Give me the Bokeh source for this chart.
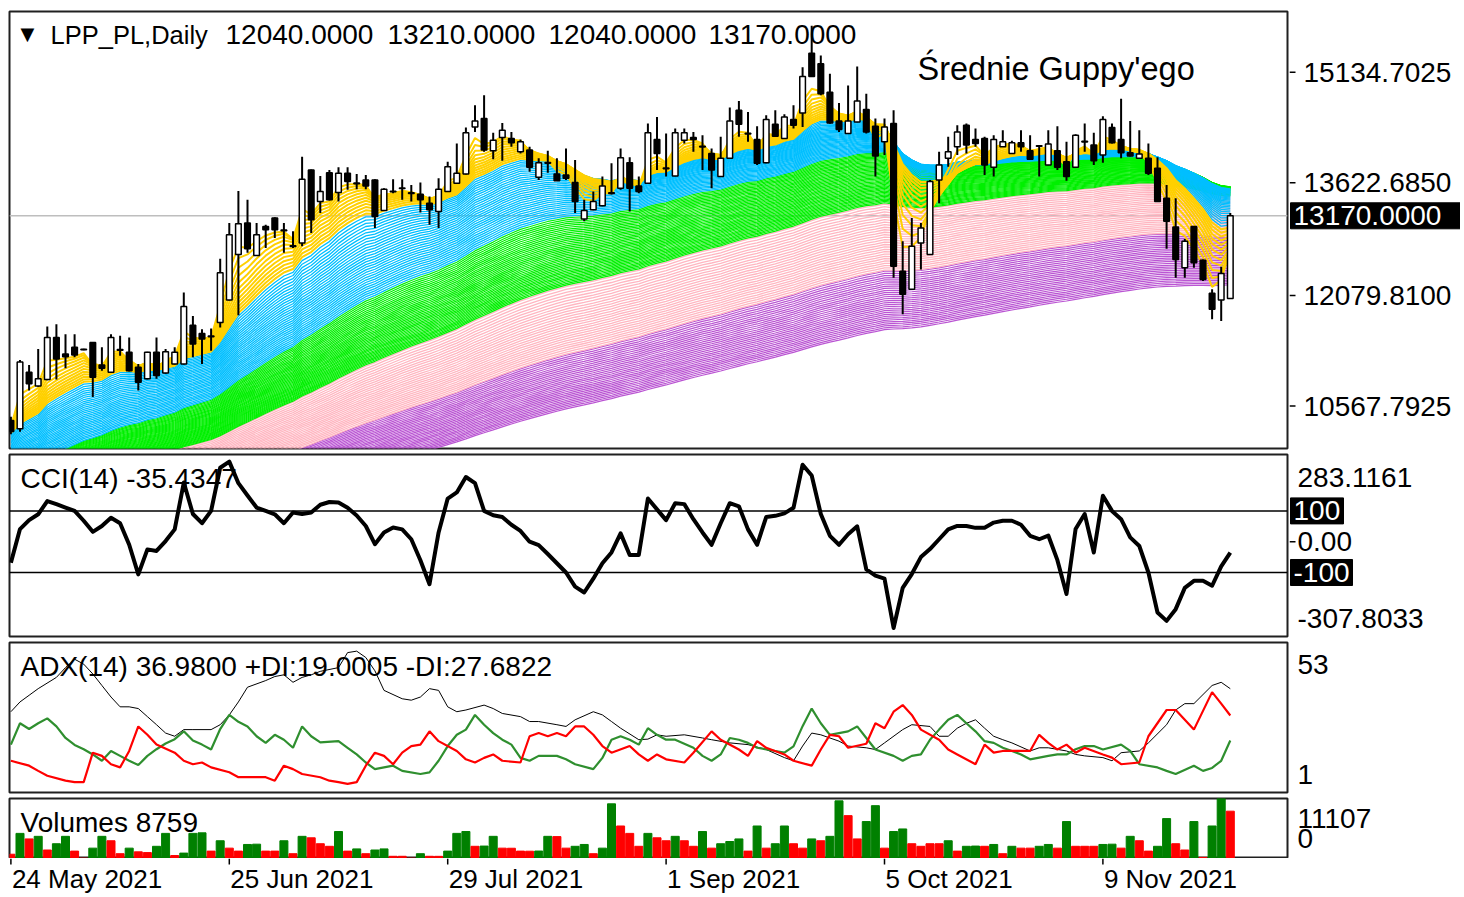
import numpy as np
from bokeh.plotting import figure
from bokeh.layouts import column, row
from bokeh.models import Range1d, Label, Span, ColumnDataSource
from bokeh.embed import file_html
from bokeh.resources import INLINE

FONT = "Liberation Sans"

# ---------------- data (daily bars, index 0 = 24 May 2021) ----------------
OPEN = [10370,10258,11030,10840,10929,11506,11279,11370,11345,11438,
        11129,11030,11340,11302,11098,10939,11302,11020,11143,11143,
        11674,11561,11525,11710,12018,12640,13071,12626,13025,13139,
        12975,12760,12799,13797,13365,13760,13488,13752,13620,13661,
        13661,13243,13505,13550,13485,13466,13343,13229,13502,13616,
        13742,14386,14500,14060,14242,14228,14046,14069,13697,13900,
        13742,13729,13624,13126,13252,13307,13485,13548,13896,13579,
        13616,14215,13825,13715,14205,14242,14120,14024,13706,13956,
        14613,14300,14215,13896,14423,14228,14487,14577,15393,15249,
        14862,14468,14296,14454,14623,14396,14183,14432,12413,12164,
        12799,12640,13661,13956,14114,14409,14215,14228,13834,14114,
        14024,14168,14060,14130,13865,14060,13910,13834,14190,14137,
        14001,14378,14215,14033,13956,13956,13820,13411,13017,12459,
        13025,12562,12109,12018,12040]
HIGH = [10420,11197,11129,11347,11656,11687,11551,11551,11350,11445,
        11370,11551,11528,11506,11143,11310,11506,11347,11370,12119,
        11800,11619,11629,12581,13071,13511,13389,13071,13048,13150,
        13071,12957,13978,13805,13715,13797,13834,13834,13742,13729,
        13670,13548,13670,13670,13593,13624,13434,13684,13910,14160,
        14378,14682,14818,14305,14441,14318,14215,14114,13956,14060,
        13956,14092,13933,13389,13502,13706,13888,14092,13970,13706,
        14432,14522,14296,14364,14364,14318,14273,14092,14250,14650,
        14740,14590,14396,14545,14613,14559,14682,15203,15770,15362,
        15113,14713,14954,15212,14841,14500,14500,14613,12821,13139,
        13071,13661,14046,14250,14409,14432,14364,14250,14273,14341,
        14196,14341,14273,14137,14341,14396,14183,14287,14432,14305,
        14532,14432,14773,14468,14341,14160,13970,13593,13411,12854,
        13030,12572,12164,12473,13210]
LOW = [10180,10217,10779,10830,10920,10929,11084,11234,11330,10690,
       11051,11020,11256,11040,10779,10930,10939,11010,11135,11135,
       11234,11143,11324,11642,12010,11810,12663,12620,12731,12867,
       12663,12731,12753,12935,13207,13380,13365,13525,13534,13534,
       13003,13235,13480,13389,13365,13216,13048,13003,13495,13610,
       13735,14318,14046,13942,13923,14114,14024,13774,13661,13760,
       13645,13661,13207,13095,13245,13300,13460,13525,13229,13480,
       13610,13797,13706,13710,14160,14046,13797,13548,13700,13950,
       14250,14183,13865,13890,14250,14220,14364,14386,15070,14818,
       14430,14318,14290,14450,14296,13706,14001,12323,11823,12160,
       12436,12635,13343,13842,14001,14024,14114,13729,13706,14110,
       14020,14046,13933,13706,13860,13797,13651,13830,14046,13865,
       13896,14160,13956,13980,13950,13729,13360,12718,12323,12323,
       12459,12277,11755,11732,12040]
CLOSE = [10220,11170,10871,10939,11506,11211,11242,11265,11337,10962,
         11084,11506,11330,11051,10894,11302,10984,11310,11302,11928,
         11415,11483,11515,12391,12912,13062,12718,12912,12980,12980,
         12965,12750,13670,13116,13502,13389,13752,13638,13610,13579,
         13161,13534,13500,13545,13475,13389,13252,13534,13842,13752,
         14305,14468,14069,14205,14341,14168,14183,13834,13896,13890,
         13651,13684,13365,13243,13365,13579,13475,13964,13548,13502,
         14305,14024,13815,14305,14305,14215,14110,13797,13956,14468,
         14423,14290,13888,14487,14259,14522,14409,15076,15076,14841,
         14441,14351,14468,14740,14318,13987,14386,12481,12096,12753,
         13003,13638,13865,14046,14318,14137,14160,13865,14215,14183,
         14168,14114,13942,14120,14151,13834,13706,14273,14180,13923,
         14487,14168,14033,13987,14015,13752,13365,13095,12572,12821,
         12527,12300,11891,12381,13170]

VOLUME = [790,4651,3625,4104,1573,2736,4104,1368,60,1915,
          4104,3283,889,1915,1231,1094,2257,4651,547,1000,
          4651,4750,1368,3283,1915,1368,2599,2650,1368,1368,
          3283,889,4104,3830,2736,2257,4993,1368,1778,889,
          1573,1778,410,410,60,889,410,400,1368,4651,
          4993,2257,2300,4104,1915,1900,1368,1350,1380,4104,
          4050,1915,2257,2599,889,1915,10123,6019,4651,2257,
          4651,3830,3283,4104,3283,2257,4993,1915,2736,3146,
          3625,1368,6019,1915,2736,6019,2736,1915,3625,3283,
          4104,10670,7934,3625,6840,9781,1915,4993,5472,2736,
          2257,2736,2736,3283,1368,2257,2300,2257,2599,889,
          2257,1915,1915,2257,2599,1915,6840,2257,2257,2257,
          2599,2650,1915,4104,3283,1368,2257,7387,2736,1573,
          6840,205,6019,11107,8759]
VOL_UP = [0,1,0,1,0,1,1,0,0,1, 1,0,0,1,0,0,1,1,0,1, 1,1,0,1,0,0,1,1,0,0,
          1,0,1,0,0,0,1,0,1,0, 1,1,0,0,0,1,0,0,1,1, 1,0,1,1,0,0,0,0,1,1,
          0,0,1,1,0,1,1,0,0,0, 1,0,0,1,0,0,1,0,1,1, 1,0,1,0,1,1,0,0,1,0,
          1,1,0,0,1,1,0,1,1,0, 0,0,0,1,0,1,1,0,1,0, 1,0,0,1,1,0,1,0,0,0,
          1,1,0,1,0,0,1,1,0,0, 1,0,1,1,0]

CCI = [-68,41,70,89,132,122,111,100,68,32,
       51,78,60,-10,-106,-25,-30,2,40,192,
       90,60,100,240,260,190,150,111,100,89,
       60,95,90,95,120,129,127,110,85,51,
       -8,30,46,40,8,-60,-138,30,140,160,
       210,190,100,86,80,55,35,0,-11,-40,
       -70,-100,-146,-165,-120,-70,-35,27,-43,-43,
       140,105,70,125,122,73,30,-10,60,125,
       115,40,-10,80,84,92,110,250,215,90,
       19,-10,24,50,-90,-110,-120,-280,-150,-105,
       -50,-24,8,40,51,51,45,45,62,68,
       68,55,19,8,20,-60,-170,41,90,-35,
       149,100,73,14,-14,-100,-230,-257,-219,-150,
       -127,-127,-143,-80,-35.4347]

ADX = [(0,29),(1,32.4),(2,34.7),(3,37),(5,40.9),(6,44.3),(7,47.2),(8,45.5),(9,42.1),(10,38.1),
       (11,34.1),(12,30.7),(13,30.7),(14,30.1),(15,27.3),(16,24.5),(17,21.6),(18,20.5),(19,22.8),
       (20,22.8),(22,22.8),(23,24.5),(24,27.9),(25,32.4),(26,37.5),(28,39.8),(29,41.2),(30,41.8),
       (31,39.2),(32,40.9),(33,41.8),(34,43),(36,44.3),(37,49.5),(38,50),(39,47.8),(40,43.2),
       (41,36.4),(43,33.5),(44,33),(45,34.1),(46,37),(47,36.4),(48,30.7),(49,29),(50,29.6),
       (52,31.3),(53,30.1),(54,28.4),(56,27.3),(57,25.6),(58,25.6),(60,24.5),(61,23.9),(62,26.2),
       (64,29),(65,27.9),(66,25.6),(67,23.3),(69,19.3),(70,19.5),(71,21),(72,20.5),(74,21),
       (76,19.9),(77,19.3),(79,18.2),(81,17.6),(83,15.9),(85,13.1),(86,12),(87,17.1),(88,21.6),
       (89,21),(91,18.8),(92,17.1),(94,16.5),(95,15.9),(96,18.2),(98,22.8),(99,24.5),(101,23.9),
       (102,20.5),(103,20.5),(104,23.3),(105,25),(106,26.2),(107,23.3),(108,20.5),(109,19.3),
       (110,18.2),(112,15.4),(113,16.5),(114,16.5),(116,15.4),(117,14.2),(118,13.7),(120,13.1),
       (121,12),(122,14.8),(124,15.4),(125,18.2),(127,24.5),(128,29.6),(129,31.8),(130,31.8),
       (132,38.1),(133,39.2),(134,36.98)]
PLUS_DI = [(0,17.6),(1,25),(2,23),(3,25),(4,26.7),(5,23.9),(6,19.9),(7,17.5),(8,16),(9,14.2),
           (10,12),(11,15.4),(12,13.7),(13,12),(14,10.5),(15,13.7),(16,16),(17,18),(18,19.5),
           (19,22.2),(20,19),(21,17.6),(22,15.9),(23,23),(24,27.9),(25,25.5),(26,23.9),(27,20.5),
           (28,18.2),(29,21),(30,19.3),(31,16.5),(32,23.9),(33,20.5),(34,18.4),(36,18.8),(37,16.5),
           (38,14.2),(39,11.4),(40,9.1),(42,10.3),(43,8.5),(45,7.4),(46,8),(47,12),(48,17.1),
           (49,21),(50,22.8),(51,27.9),(52,24.5),(53,21.6),(54,19.3),(55,17.6),(56,13),(57,12),
           (58,13.7),(60,13.7),(61,12.5),(62,10.8),(64,9.1),(65,13),(66,19.3),(67,20.5),(68,19.3),
           (69,17.6),(70,23.3),(71,21),(72,19.3),(73,19.3),(75,16.5),(76,13.7),(77,12),(78,14.2),
           (79,19.9),(80,19.3),(81,18.2),(82,16.5),(84,15.4),(85,14.8),(86,17),(87,24),(88,30.1),
           (89,25),(90,21),(92,22.2),(93,23.9),(94,19.9),(95,15.9),(97,13.7),(98,12),(99,13.7),
           (100,14.2),(101,19.3),(102,22.8),(103,26.2),(104,27.9),(105,25),(106,22.2),(107,18.8),
           (108,18.2),(109,16.5),(110,15.4),(111,14.2),(112,12.5),(114,13.7),(115,14.2),(116,14.2),
           (117,16),(118,17.1),(119,17.1),(120,15.9),(122,17.6),(123,15.4),(124,10.8),(126,9.7),
           (127,8.5),(128,7.4),(130,10.3),(131,8.5),(132,9.5),(133,12),(134,19.0005)]
MINUS_DI = [(0,12),(2,10.3),(3,8.5),(4,6.8),(6,5.1),(7,4.6),(8,4.6),(9,14.8),(10,13.7),(11,10.8),
            (12,9.7),(13,15.4),(14,23.9),(15,21),(16,17.6),(18,14.8),(19,12),(20,10.8),(21,11.4),
            (22,9.7),(24,8),(25,6.3),(26,6.3),(28,6.3),(29,5.1),(30,10.3),(31,9.1),(32,7.4),
            (34,6.3),(35,5.1),(36,4.6),(37,4),(38,4.6),(39,10.3),(40,14.8),(41,13.7),(42,10.8),
            (43,14.8),(44,17.1),(45,17.6),(46,22.2),(47,18.8),(49,15.4),(50,12.5),(51,11.4),(52,13),
            (53,14.2),(54,12),(56,11.4),(57,20.5),(58,21.6),(59,20.5),(60,21.6),(61,20.5),(62,23.9),
            (63,23.9),(64,21),(65,17.1),(66,14.8),(68,17.1),(69,14.2),(70,12),(71,14.2),(72,12.5),
            (74,11.4),(75,14.8),(77,22.2),(78,19.3),(80,15.9),(81,13.7),(82,18.8),(83,16.5),(85,14.2),
            (86,12),(88,10.3),(89,15.9),(90,21),(91,20.5),(92,16.5),(94,17.9),(95,25),(96,23.3),
            (97,29),(98,31.3),(99,27.9),(100,22.8),(102,19.3),(103,15.9),(104,14.2),(106,10.8),
            (107,17.6),(108,14.8),(109,15.4),(112,15.4),(113,21),(114,18.2),(115,15.9),(116,17.6),
            (117,14.8),(118,16.5),(120,14.2),(121,13.1),(122,10.8),(124,11.4),(125,20.5),(127,29.6),
            (128,29.6),(130,22.8),(132,35.8),(133,31.8),(134,27.6822)]

DATE_TICKS = [0, 24, 48, 72, 96, 120]
DATE_LABELS = ["24 May 2021", "25 Jun 2021", "29 Jul 2021", "1 Sep 2021", "5 Oct 2021", "9 Nov 2021"]
PRICE_TICKS = [10567.7925, 12079.81, 13622.685, 15134.7025]

# Guppy ribbons: colour groups of EMA periods; start levels (pre-history estimate) per period
GROUP_COLORS = ["#FFD000", "#00BFFF", "#00F000", "#FFB6C1", "#BA55D3"]
GROUP_WIDTHS = [2.0, 1.3, 1.2, 1.3, 1.2]
GROUP_PERIODS = [list(range(3, 15)), list(range(15, 46)), list(range(46, 86)),
                 list(range(86, 141, 2)), list(range(141, 201, 2))]
SEED_PERIODS = [3, 14, 45, 85, 140, 200]
SEED_LEVELS = [10350, 10200, 9600, 9300, 8900, 8500]

PRICE_MIN, PRICE_MAX = 9986.4, 15965.1
CCI_MIN, CCI_MAX = -307.8033, 283.1161
ADX_MIN, ADX_MAX = 1, 53
VOL_MAX = 11107

# ---------------- layout ----------------
N = len(CLOSE)
idx = list(range(N))
FRAME_W = 1278
SIDE_W = 171
STEP = 9.1
FIRST = 1.4
xr = Range1d(-FIRST / STEP, -FIRST / STEP + FRAME_W / STEP)


def base(fig):
    fig.grid.visible = False
    fig.background_fill_color = "white"
    fig.border_fill_color = "white"
    return fig


def panel(frame_h, top, bottom, yr):
    p = figure(frame_width=FRAME_W, frame_height=frame_h, x_range=xr, y_range=yr,
               output_backend="svg", toolbar_location=None,
               x_axis_location=None, y_axis_location=None,
               min_border_left=9, min_border_right=2,
               min_border_top=top, min_border_bottom=bottom)
    base(p)
    p.outline_line_color = "#202020"
    p.outline_line_width = 2
    return p


def side(frame_h, top, bottom, yr):
    s = figure(frame_width=SIDE_W, frame_height=frame_h, x_range=Range1d(0, SIDE_W), y_range=yr,
               output_backend="svg", toolbar_location=None,
               x_axis_location=None, y_axis_location=None,
               min_border_left=0, min_border_right=0,
               min_border_top=top, min_border_bottom=bottom)
    base(s)
    s.outline_line_color = None
    return s


def lab(p, text, x, y, xu="screen", yu="screen", size=28, align="left",
        baseline="middle", color="black", font=FONT, x_offset=0):
    p.add_layout(Label(x=x, y=y, x_units=xu, y_units=yu, text=text, text_font=font,
                       text_font_size=f"{size}px", text_color=color, text_align=align,
                       text_baseline=baseline, x_offset=x_offset))


def ticks(s, values):
    s.segment(x0=[0] * len(values), x1=[6] * len(values), y0=values, y1=values,
              line_color="black", line_width=1.5)


def box(s, text, yv, x_left, width):
    s.rect(x=[x_left + width / 2.0], y=[yv], width=[width], height=[26], height_units="screen",
           fill_color="black", line_color="black")
    lab(s, text, x_left + 3, yv, xu="data", yu="data", color="white")


# ---- top window line ----
top_strip = figure(frame_width=1460, frame_height=6, x_range=Range1d(0, 1460), y_range=Range1d(0, 6),
                   output_backend="svg", toolbar_location=None, x_axis_location=None,
                   y_axis_location=None, min_border=0)
base(top_strip)
top_strip.outline_line_color = None
top_strip.segment(x0=[0], x1=[1425], y0=[3], y1=[3], line_color="#2E7D5E", line_width=1.5)

# ---- main price panel ----
H1 = 437
p1 = panel(H1, 5, 3, Range1d(PRICE_MIN, PRICE_MAX))
p1.add_layout(Span(location=CLOSE[-1], dimension="width", line_color="#BEBEBE",
                   line_width=1.5, level="underlay"))

groups = list(zip(GROUP_COLORS, GROUP_WIDTHS, GROUP_PERIODS))
for color, lw, periods in reversed(groups):
    xs, ys = [], []
    for n in periods:
        a = 2.0 / (n + 1)
        e = float(np.interp(n, SEED_PERIODS, SEED_LEVELS))
        vals = []
        for c in CLOSE:
            e = e + a * (c - e)
            vals.append(e)
        xs.append(idx)
        ys.append(vals)
    p1.multi_line(xs, ys, line_color=color, line_width=lw)

up = [c >= o for o, c in zip(OPEN, CLOSE)]
p1.segment(x0=idx, y0=LOW, x1=idx, y1=HIGH, line_color="black", line_width=2)
csrc = ColumnDataSource(dict(x=idx, top=[max(o, c) for o, c in zip(OPEN, CLOSE)],
                             bottom=[min(o, c) for o, c in zip(OPEN, CLOSE)],
                             fill=["white" if u else "black" for u in up]))
p1.vbar(x="x", top="top", bottom="bottom", width=0.62, fill_color="fill",
        line_color="black", line_width=1.5, source=csrc)

lab(p1, "\u25BC", 18, H1 - 22, size=18, align="center", font="DejaVu Sans")
lab(p1, "LPP_PL,Daily", 41, H1 - 23, size=25.5)
for xx, t in zip([216, 378, 539, 699],
                 ["%.4f" % OPEN[-1], "%.4f" % HIGH[-1], "%.4f" % LOW[-1], "%.4f" % CLOSE[-1]]):
    lab(p1, t, xx, H1 - 23)
lab(p1, "Średnie Guppy'ego", 908, H1 - 57, size=32.5)

s1 = side(H1, 5, 3, p1.y_range)
ticks(s1, PRICE_TICKS)
for v in PRICE_TICKS:
    lab(s1, "%.4f" % v, 14, v, xu="data", yu="data")
box(s1, "%.4f" % CLOSE[-1], CLOSE[-1], 1, 170)

# ---- CCI panel ----
H2 = 182
p2 = panel(H2, 3, 3, Range1d(CCI_MIN, CCI_MAX))
for lvl in (100, -100):
    p2.add_layout(Span(location=lvl, dimension="width", line_color="black",
                       line_width=1.5, level="underlay"))
p2.line(idx, CCI, line_color="black", line_width=4, line_join="round")
lab(p2, "CCI(14) %.4f" % CCI[-1], 11, H2 - 24)

s2 = side(H2, 3, 3, p2.y_range)
ticks(s2, [0])
lab(s2, "%.4f" % CCI_MAX, 8, H2 - 23)
lab(s2, "0.00", 8, 0, xu="data", yu="data")
lab(s2, "%.4f" % CCI_MIN, 8, 18)
box(s2, "100", 100, 1, 53)
box(s2, "-100", -100, 1, 62)

# ---- ADX panel ----
H3 = 150
p3 = panel(H3, 3, 3, Range1d(ADX_MIN, ADX_MAX))
p3.line([a for a, _ in ADX], [b for _, b in ADX], line_color="black", line_width=1)
p3.line([a for a, _ in PLUS_DI], [b for _, b in PLUS_DI], line_color="#2F8F2F", line_width=2.2)
p3.line([a for a, _ in MINUS_DI], [b for _, b in MINUS_DI], line_color="#FF0000", line_width=2.2)
lab(p3, "ADX(14) %.4f +DI:%.4f -DI:%.4f" % (ADX[-1][1], PLUS_DI[-1][1], MINUS_DI[-1][1]), 11, H3 - 24)

s3 = side(H3, 3, 3, p3.y_range)
lab(s3, "%d" % ADX_MAX, 8, H3 - 22)
lab(s3, "%d" % ADX_MIN, 8, 18)

# ---- Volumes panel ----
H4 = 60
p4 = panel(H4, 3, 0, Range1d(0, VOL_MAX))
p4.vbar(x=idx, top=VOLUME, bottom=0, width=0.88,
        color=["#008000" if u else "#FF0000" for u in VOL_UP])
lab(p4, "Volumes %d" % VOLUME[-1], 11, H4 - 24)

s4 = side(H4, 3, 0, p4.y_range)
lab(s4, "%d" % VOL_MAX, 8, H4 - 20)
lab(s4, "0", 8, 20)

# ---- date strip ----
HD = 36
dates = figure(frame_width=FRAME_W, frame_height=HD, x_range=xr, y_range=Range1d(0, HD),
               output_backend="svg", toolbar_location=None, x_axis_location=None,
               y_axis_location=None, min_border_left=9, min_border_right=0,
               min_border_top=0, min_border_bottom=0)
base(dates)
dates.outline_line_color = None
dates.segment(x0=DATE_TICKS, x1=DATE_TICKS, y0=[HD] * len(DATE_TICKS), y1=[HD - 6] * len(DATE_TICKS),
              line_color="black", line_width=1.5)
for t, s in zip(DATE_TICKS, DATE_LABELS):
    lab(dates, s, t, 16, xu="data", size=26, x_offset=1)

layout = column(top_strip, row(p1, s1), row(p2, s2), row(p3, s3), row(p4, s4), dates)
open("out.html", "w").write(file_html(layout, INLINE, "LPP_PL"))
